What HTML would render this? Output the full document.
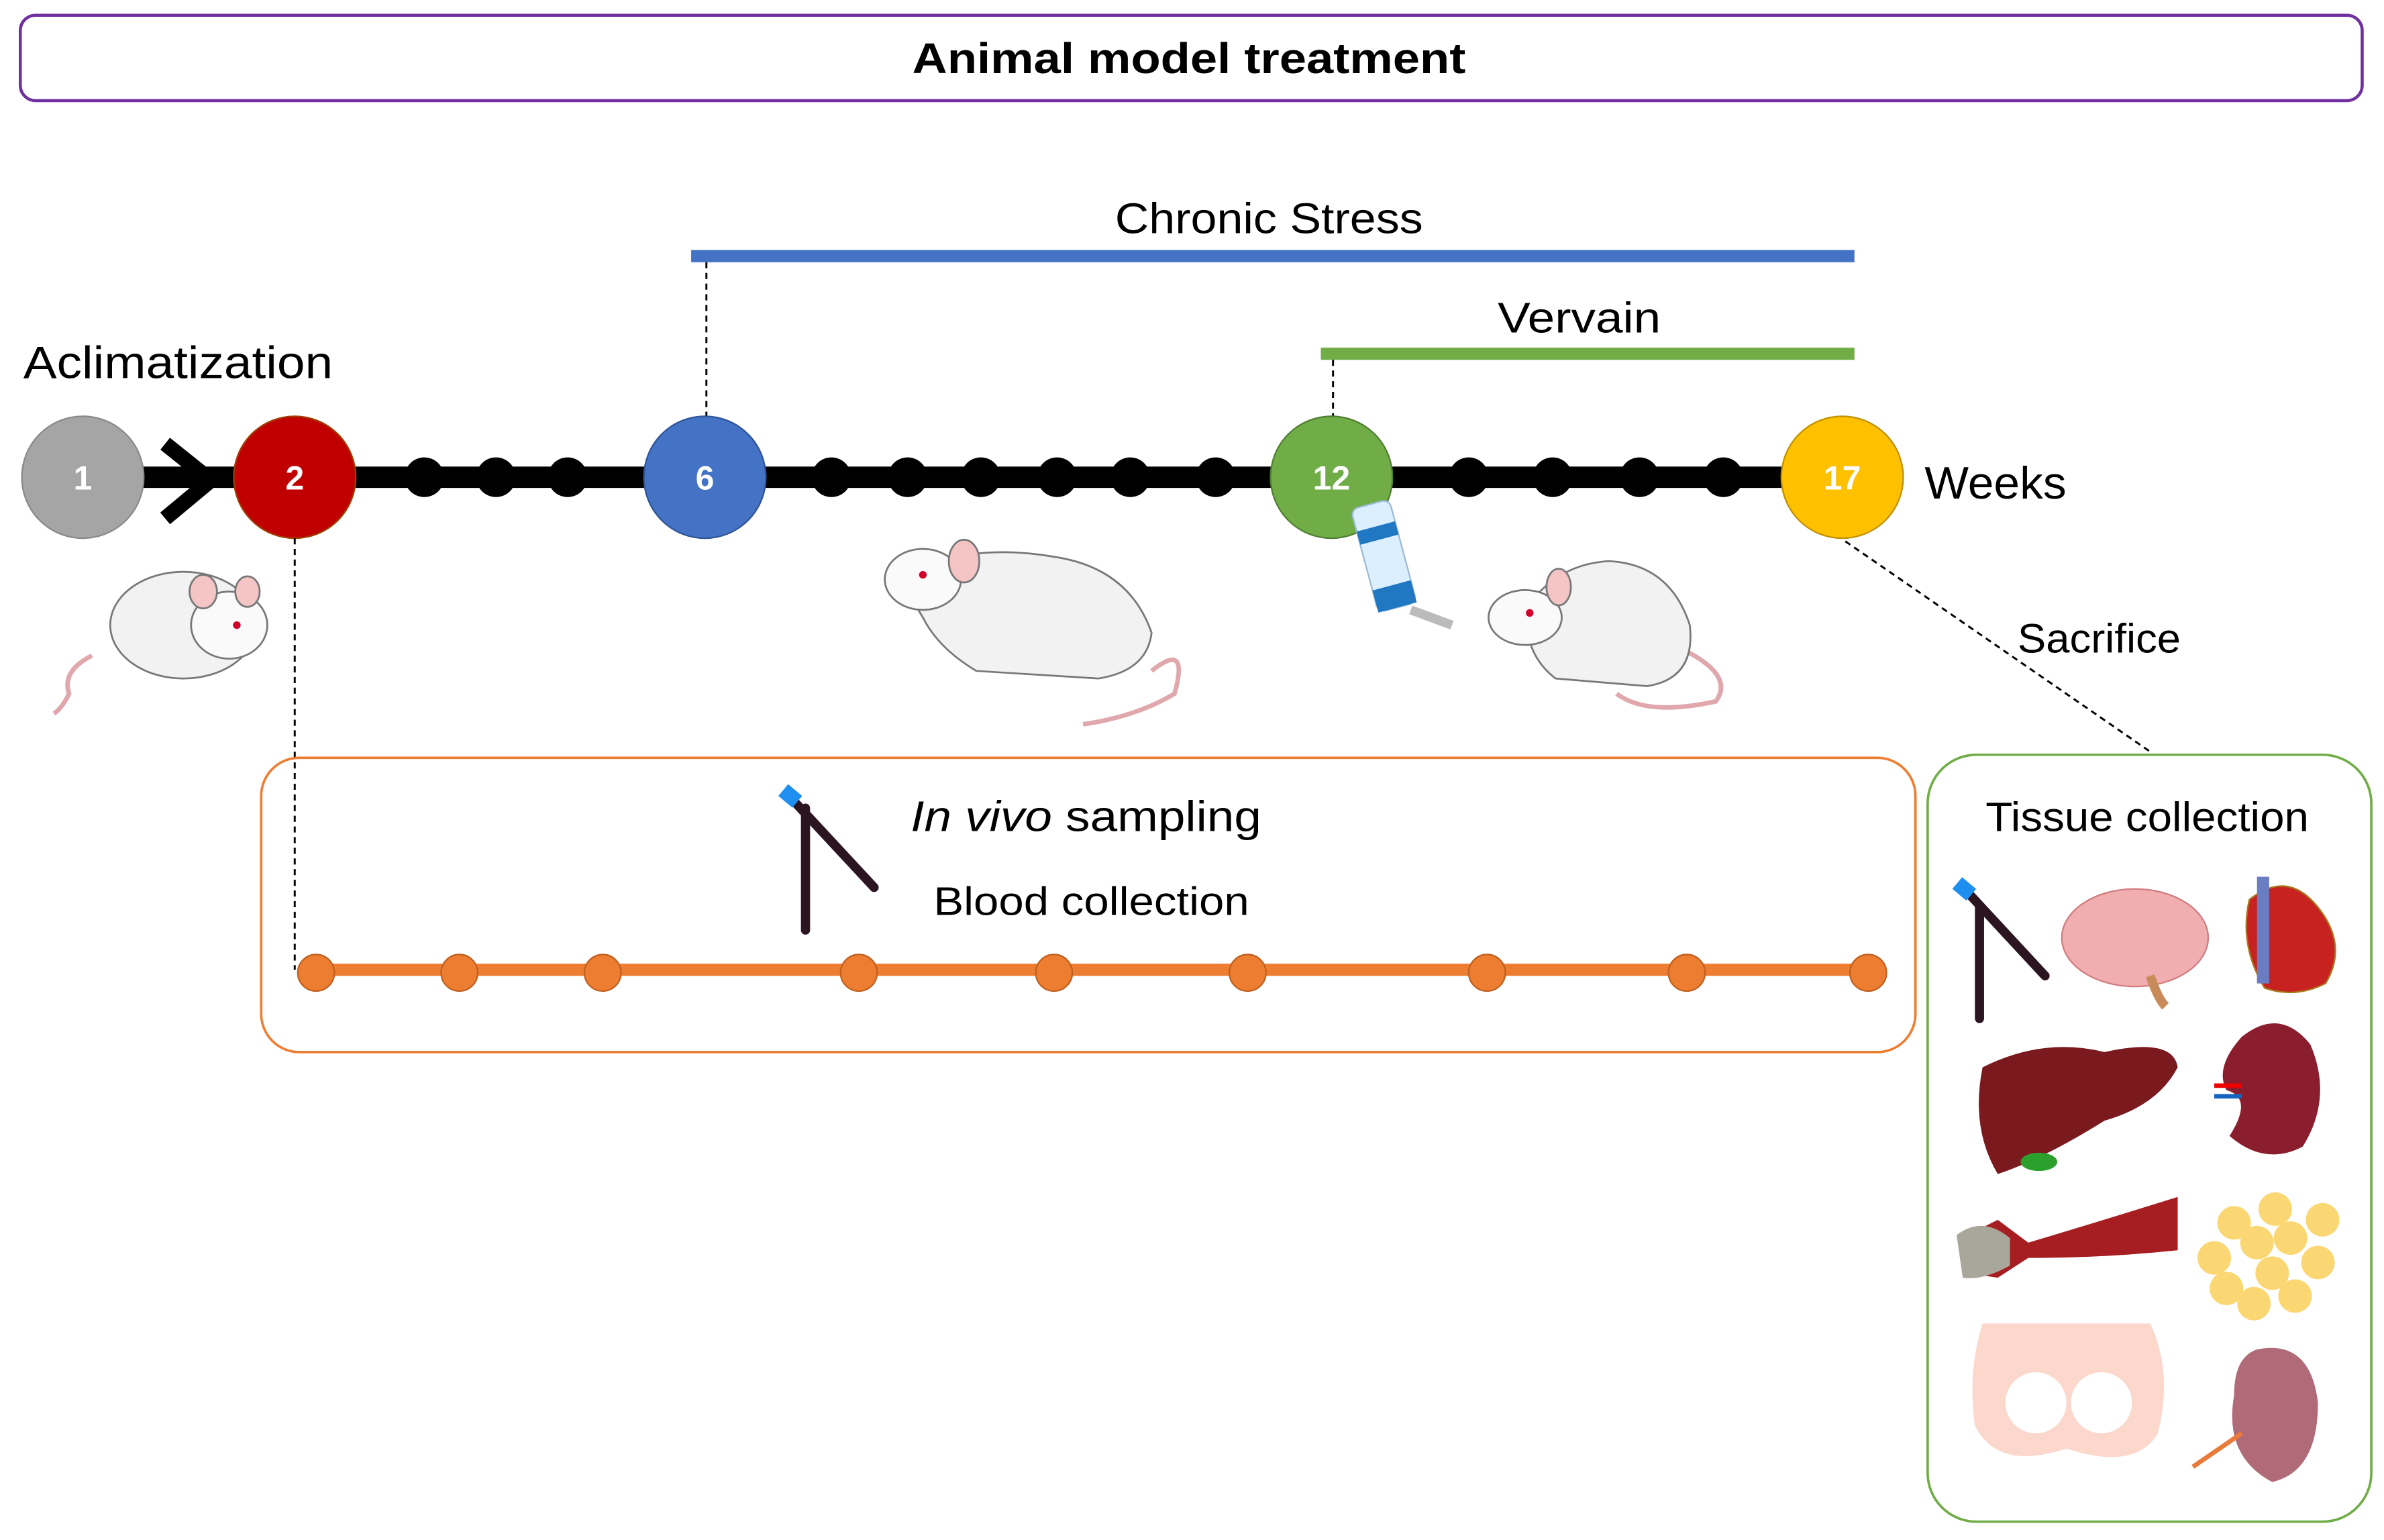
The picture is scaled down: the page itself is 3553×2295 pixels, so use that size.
<!DOCTYPE html>
<html><head><meta charset="utf-8"><style>html,body{margin:0;padding:0;background:#fff}svg{display:block}</style></head>
<body>
<svg width="3553" height="2295" viewBox="0 0 1563 1010" xmlns="http://www.w3.org/2000/svg" font-family="Liberation Sans, sans-serif">
<rect x="0" y="0" width="1563" height="1010" fill="#fff"/>
<!-- title -->
<rect x="13" y="10" width="1536" height="56" rx="10" fill="#fff" stroke="#7030A0" stroke-width="2"/>
<text x="598" y="48" font-size="28" font-weight="bold" textLength="363" lengthAdjust="spacingAndGlyphs">Animal model treatment</text>
<!-- bars -->
<text x="731" y="153" font-size="28" textLength="202" lengthAdjust="spacingAndGlyphs">Chronic Stress</text>
<rect x="453" y="164" width="763" height="8" fill="#4472C4"/>
<line x1="463" y1="172" x2="463" y2="275" stroke="#000" stroke-width="1.3" stroke-dasharray="4,3"/>
<text x="982" y="218" font-size="28" textLength="107" lengthAdjust="spacingAndGlyphs">Vervain</text>
<rect x="866" y="228" width="350" height="8" fill="#70AD47"/>
<line x1="874" y1="236" x2="874" y2="275" stroke="#000" stroke-width="1.3" stroke-dasharray="4,3"/>
<text x="15" y="248" font-size="30" textLength="203" lengthAdjust="spacingAndGlyphs">Aclimatization</text>
<!-- timeline -->
<rect x="90" y="306" width="1090" height="14" fill="#000"/>
<path d="M108 291 L138 315 L108 340" fill="none" stroke="#000" stroke-width="10"/>
<g fill="#000">
<circle cx="278" cy="313" r="13"/><circle cx="325" cy="313" r="13"/><circle cx="372" cy="313" r="13"/>
<circle cx="545" cy="313" r="13"/><circle cx="595" cy="313" r="13"/><circle cx="643" cy="313" r="13"/><circle cx="693" cy="313" r="13"/><circle cx="741" cy="313" r="13"/><circle cx="797" cy="313" r="13"/>
<circle cx="963" cy="313" r="13"/><circle cx="1018" cy="313" r="13"/><circle cx="1075" cy="313" r="13"/><circle cx="1130" cy="313" r="13"/>
</g>
<g font-size="22" font-weight="bold" fill="#fff" text-anchor="middle">
<circle cx="54" cy="313" r="40" fill="#A5A5A5" stroke="#8a8a8a"/><text x="54" y="321">1</text>
<circle cx="193" cy="313" r="40" fill="#C00000" stroke="#a04000"/><text x="193" y="321">2</text>
<circle cx="462" cy="313" r="40" fill="#4472C4" stroke="#2f5597"/><text x="462" y="321">6</text>
<circle cx="873" cy="313" r="40" fill="#70AD47" stroke="#507e32"/><text x="873" y="321">12</text>
<circle cx="1208" cy="313" r="40" fill="#FFC000" stroke="#c09000"/><text x="1208" y="321">17</text>
</g>
<text x="1262" y="327" font-size="30" textLength="93" lengthAdjust="spacingAndGlyphs">Weeks</text>
<line x1="1210" y1="355" x2="1410" y2="493" stroke="#000" stroke-width="1.3" stroke-dasharray="4,3"/>
<text x="1323" y="428" font-size="27" textLength="107" lengthAdjust="spacingAndGlyphs">Sacrifice</text>
<line x1="193" y1="353" x2="193" y2="636" stroke="#000" stroke-width="1.3" stroke-dasharray="4,3"/>
<!-- mice -->
<g stroke="#777" stroke-width="1.2">
<path d="M60 430 Q40 440 45 455 Q40 465 35 468" fill="none" stroke="#e0a8ad" stroke-width="3"/>
<ellipse cx="120" cy="410" rx="48" ry="35" fill="#f2f2f2"/>
<ellipse cx="150" cy="410" rx="25" ry="22" fill="#fafafa"/>
<ellipse cx="133" cy="388" rx="9" ry="11" fill="#f5c5c5"/><ellipse cx="162" cy="388" rx="8" ry="10" fill="#f5c5c5"/>
<circle cx="155" cy="410" r="2.5" fill="#d0002a" stroke="none"/>
<path d="M755 440 Q780 420 770 455 Q745 470 710 475" fill="none" stroke="#e0a8ad" stroke-width="3"/>
<path d="M590 380 Q630 355 690 365 Q740 372 755 415 Q752 440 720 445 L640 440 Q615 425 605 405 Z" fill="#f2f2f2"/>
<ellipse cx="605" cy="380" rx="25" ry="20" fill="#fafafa"/>
<ellipse cx="632" cy="368" rx="10" ry="14" fill="#f5c5c5"/>
<circle cx="605" cy="377" r="2.5" fill="#d0002a" stroke="none"/>
<path d="M1090 420 Q1140 440 1125 460 Q1080 470 1060 455" fill="none" stroke="#e0a8ad" stroke-width="3"/>
<path d="M1000 400 Q1020 370 1055 368 Q1095 370 1108 410 Q1112 445 1080 450 L1020 445 Q1000 430 1000 400 Z" fill="#f2f2f2"/>
<ellipse cx="1000" cy="405" rx="24" ry="18" fill="#fafafa"/>
<ellipse cx="1022" cy="385" rx="8" ry="12" fill="#f5c5c5"/>
<circle cx="1003" cy="402" r="2.5" fill="#d0002a" stroke="none"/>
</g>
<!-- bottle -->
<g transform="rotate(-15 905 360)">
<rect x="893" y="330" width="26" height="70" rx="5" fill="#dcefff" stroke="#9bbad6"/>
<rect x="893" y="345" width="26" height="9" fill="#1f78c1"/>
<rect x="893" y="385" width="26" height="15" fill="#1f78c1"/>
</g>
<line x1="925" y1="400" x2="952" y2="410" stroke="#bbb" stroke-width="6"/>
<!-- in vivo box -->
<rect x="171" y="497" width="1085" height="193" rx="25" fill="none" stroke="#ED7D31" stroke-width="1.6"/>
<line x1="528" y1="530" x2="528" y2="610" stroke="#2a1520" stroke-width="6" stroke-linecap="round"/>
<line x1="520" y1="525" x2="573" y2="582" stroke="#2a1520" stroke-width="6" stroke-linecap="round"/>
<rect x="512" y="517" width="12" height="10" fill="#1e8ff0" transform="rotate(40 518 522)"/>
<text x="597" y="545" font-size="28" textLength="230" lengthAdjust="spacingAndGlyphs"><tspan font-style="italic">In vivo</tspan> sampling</text>
<text x="612" y="600" font-size="26" textLength="207" lengthAdjust="spacingAndGlyphs">Blood collection</text>
<rect x="207" y="632" width="1018" height="8" fill="#ED7D31"/>
<g fill="#ED7D31" stroke="#c0601f">
<circle cx="207" cy="638" r="12"/><circle cx="301" cy="638" r="12"/><circle cx="395" cy="638" r="12"/><circle cx="563" cy="638" r="12"/><circle cx="691" cy="638" r="12"/><circle cx="818" cy="638" r="12"/><circle cx="975" cy="638" r="12"/><circle cx="1106" cy="638" r="12"/><circle cx="1225" cy="638" r="12"/>
</g>
<!-- tissue box -->
<rect x="1264" y="495" width="291" height="503" rx="32" fill="none" stroke="#70AD47" stroke-width="1.6"/>
<text x="1302" y="545" font-size="27" textLength="212" lengthAdjust="spacingAndGlyphs">Tissue collection</text>
<line x1="1298" y1="595" x2="1298" y2="668" stroke="#2a1520" stroke-width="6" stroke-linecap="round"/>
<line x1="1290" y1="585" x2="1341" y2="640" stroke="#2a1520" stroke-width="6" stroke-linecap="round"/>
<rect x="1282" y="578" width="12" height="10" fill="#1e8ff0" transform="rotate(40 1288 583)"/>
<ellipse cx="1400" cy="615" rx="48" ry="32" fill="#f1aeb0" stroke="#d07c80"/>
<path d="M1410 640 Q1415 655 1420 660" stroke="#c98a5a" stroke-width="6" fill="none"/>
<path d="M1475 590 Q1500 570 1520 595 Q1540 620 1525 645 Q1505 655 1485 648 Q1468 620 1475 590 Z" fill="#c7221f" stroke="#a87a20"/>
<rect x="1480" y="575" width="8" height="70" fill="#6a7cc2"/>
<path d="M1300 700 Q1340 680 1380 690 Q1425 680 1428 700 Q1415 725 1380 735 Q1340 760 1310 770 Q1292 740 1300 700 Z" fill="#7a1a1e"/>
<ellipse cx="1337" cy="762" rx="12" ry="6" fill="#2ca02c"/>
<path d="M1470 680 Q1495 660 1515 685 Q1530 720 1510 752 Q1485 765 1462 745 Q1478 720 1460 715 Q1452 700 1470 680 Z" fill="#8b1e2e"/>
<line x1="1452" y1="712" x2="1470" y2="712" stroke="#e00" stroke-width="3"/><line x1="1452" y1="719" x2="1470" y2="719" stroke="#1565c0" stroke-width="3"/>
<path d="M1290 810 L1310 800 L1330 815 Q1380 800 1428 785 L1428 820 Q1380 825 1330 825 L1310 838 L1290 835 Z" fill="#a61e22"/>
<path d="M1283 810 Q1300 797 1318 812 L1318 830 Q1300 840 1287 838 Z" fill="#a9a79a"/>
<g fill="#fbd774" stroke="none">
<circle cx="1465" cy="802" r="11"/><circle cx="1492" cy="793" r="11"/><circle cx="1523" cy="800" r="11"/><circle cx="1452" cy="825" r="11"/><circle cx="1480" cy="815" r="11"/><circle cx="1502" cy="812" r="11"/><circle cx="1520" cy="828" r="11"/><circle cx="1460" cy="845" r="11"/><circle cx="1490" cy="835" r="11"/><circle cx="1478" cy="855" r="11"/><circle cx="1505" cy="850" r="11"/>
</g>
<path d="M1300 868 L1410 868 Q1425 900 1415 940 Q1400 965 1355 950 Q1310 965 1295 935 Q1290 900 1300 868 Z" fill="#fbd7cc"/>
<circle cx="1335" cy="920" r="20" fill="#fff"/><circle cx="1378" cy="920" r="20" fill="#fff"/>
<path d="M1480 885 Q1515 878 1520 920 Q1520 965 1490 972 Q1458 955 1465 915 Q1465 890 1480 885 Z" fill="#b06a78"/>
<line x1="1438" y1="962" x2="1470" y2="940" stroke="#e87a3a" stroke-width="3"/>
</svg>
</body></html>
